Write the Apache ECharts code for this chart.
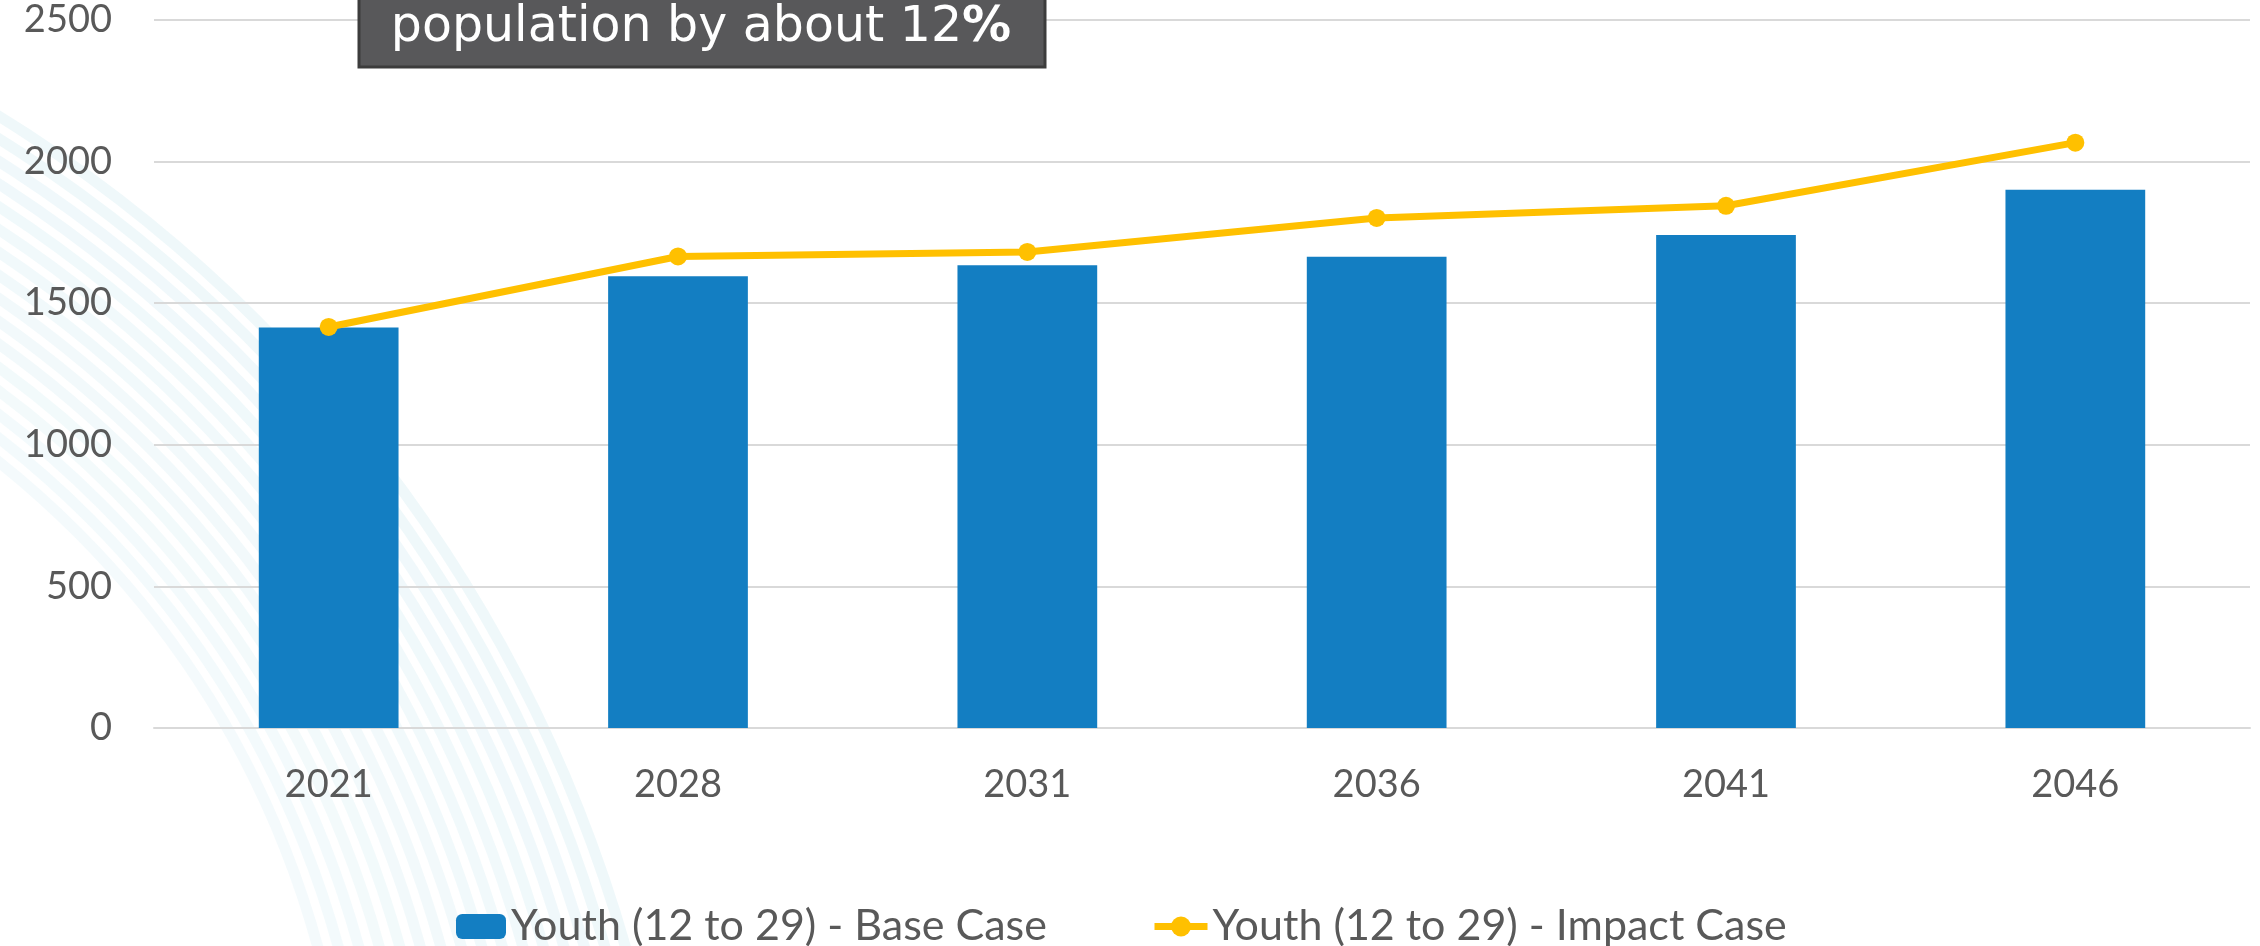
<!DOCTYPE html>
<html>
<head>
<meta charset="utf-8">
<script src="https://cdn.jsdelivr.net/npm/echarts@6/dist/echarts.min.js"></script>
<style>
html,body{margin:0;padding:0;background:#fff;}
#c{width:2260px;height:946px;}
</style>
</head>
<body>
<div id="c"></div>
<script>
const categories = ['2021', '2028', '2031', '2036', '2041', '2046'];
const baseCase = [1414, 1595, 1634, 1664, 1741, 1901];
const impactCase = [1416, 1665, 1681, 1801, 1844, 2067];
const seriesNames = ['Youth (12 to 29) - Base Case', 'Youth (12 to 29) - Impact Case'];
const calloutText = 'population by about 12';
const calloutBold = '%';

const chart = echarts.init(document.getElementById('c'), null, {renderer: 'canvas'});

// decorative background arcs
const arcs = [];
for (let i = 0; i < 16; i++) {
  arcs.push({
    type: 'arc',
    z: -10,
    silent: true,
    shape: {cx: -760 + i * 12, cy: 1340 - i * 10, r: 1440 - i * 34, startAngle: -Math.PI / 2, endAngle: 0},
    style: {fill: 'none', stroke: 'rgba(175,220,232,' + (0.2 - i * 0.004).toFixed(3) + ')', lineWidth: 11}
  });
}

const axisFont = {fontFamily: 'Lato', fontSize: 38, color: '#595959'};

chart.setOption({
  backgroundColor: '#ffffff',
  animation: false,
  grid: {left: 154, right: 10, top: 20, bottom: 218, containLabel: false},
  xAxis: {
    type: 'category',
    data: categories,
    axisLine: {show: true, lineStyle: {color: '#d9d9d9', width: 2}},
    axisTick: {show: false},
    axisLabel: Object.assign({margin: 38}, axisFont)
  },
  yAxis: {
    type: 'value',
    min: 0, max: 2500, interval: 500,
    axisLine: {show: false},
    axisTick: {show: false},
    splitLine: {lineStyle: {color: '#d9d9d9', width: 2}},
    axisLabel: Object.assign({margin: 42, formatter: function (v) { return String(v); }}, axisFont)
  },
  legend: [
    {
      data: [seriesNames[0]],
      left: 451, top: 900,
      itemWidth: 50, itemHeight: 25, itemGap: 5,
      textStyle: {fontFamily: 'Lato', fontSize: 43, color: '#595959'}
    },
    {
      data: [seriesNames[1]],
      left: 1146, top: 900,
      itemWidth: 53, itemHeight: 25,
      lineStyle: {width: 7},
      textStyle: {fontFamily: 'Lato', fontSize: 43, color: '#595959'}
    }
  ],
  graphic: arcs.concat([
    {
      type: 'rect', z: 100,
      shape: {x: 359, y: -20, width: 686, height: 87},
      style: {fill: '#58585a', stroke: '#3c3c3c', lineWidth: 3}
    },
    {
      type: 'text', z: 101,
      x: 701, y: 28,
      style: {
        text: '{a|' + calloutText + '}{b|' + calloutBold + '}',
        align: 'center', verticalAlign: 'middle',
        rich: {
          a: {fontFamily: 'DejaVu Sans', fontSize: 49, fill: '#ffffff', color: '#ffffff'},
          b: {fontFamily: 'DejaVu Sans', fontSize: 49, fontWeight: 'bold', fill: '#ffffff', color: '#ffffff'}
        }
      }
    }
  ]),
  series: [
    {
      name: seriesNames[0],
      type: 'bar',
      data: baseCase,
      barWidth: '40%',
      itemStyle: {color: '#137EC2'}
    },
    {
      name: seriesNames[1],
      type: 'line',
      data: impactCase,
      symbol: 'circle',
      symbolSize: 18,
      lineStyle: {color: '#FFC000', width: 7},
      itemStyle: {color: '#FFC000'}
    }
  ]
});
</script>
</body>
</html>
